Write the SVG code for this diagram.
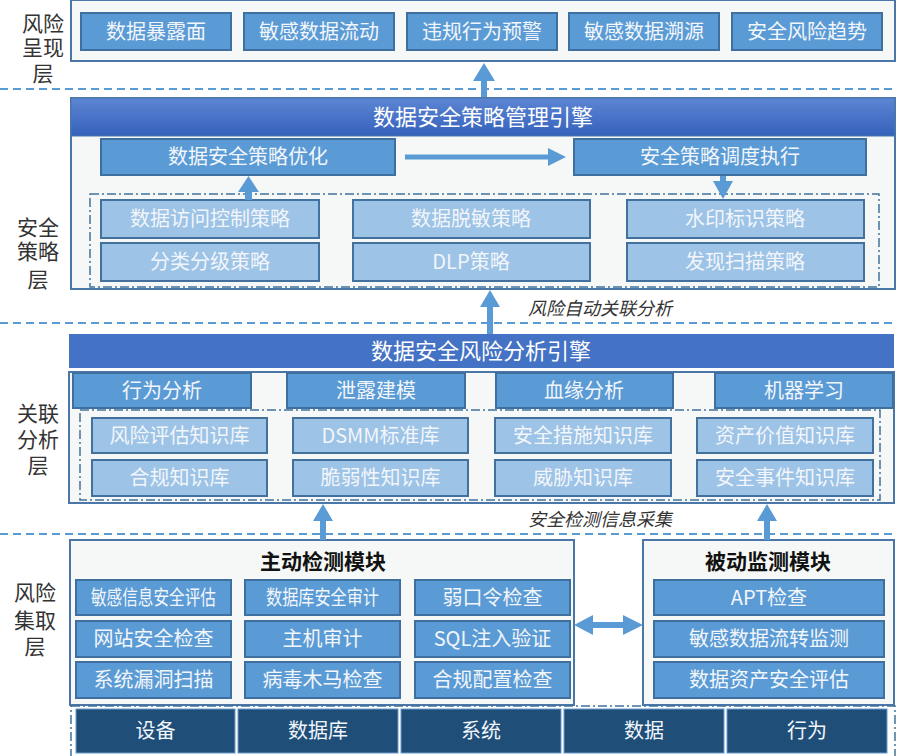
<svg xmlns="http://www.w3.org/2000/svg" width="900" height="756" viewBox="0 0 900 756">
<defs>
<linearGradient id="hdr" x1="0" y1="0" x2="0" y2="1">
<stop offset="0" stop-color="#5d85d3"/>
<stop offset="1" stop-color="#3461bb"/>
</linearGradient>
<style>
text{font-family:"Noto Sans CJK SC","Noto Sans",sans-serif;text-anchor:middle}
.sec{fill:#f5f8f6;stroke:#4a76a8;stroke-width:2}
.mid{fill:#5b9bd5;stroke:#3f6f9f;stroke-width:2}
.lt{fill:#9dc3e6;stroke:#41719c;stroke-width:2}
.dk{fill:#1f4e79;stroke:#6a9bcf;stroke-width:1}
.dd{fill:none;stroke:#41719c;stroke-width:1.5;stroke-dasharray:9 3 2 3}
.sep{stroke:#5b9bd5;stroke-width:2;stroke-dasharray:8 5}
.bt{fill:#f2f6fb;font-size:20px}
.hd{fill:#ffffff;font-size:22px}
.ly{fill:#333;font-size:21px}
.it{fill:#333;font-size:18px;font-style:italic}
.ti{fill:#111;font-size:21px;font-weight:bold}
.ar{fill:#5b9bd5}
</style>
</defs>
<rect width="900" height="756" fill="#ffffff"/>

<g id="separators">
<line class="sep" x1="0" y1="89" x2="895" y2="89"/>
<line class="sep" x1="0" y1="323" x2="895" y2="323"/>
<line class="sep" x1="0" y1="534" x2="895" y2="534"/>
</g>

<g id="layer-labels">
<text class="ly" x="43" y="31">风险<tspan x="43" dy="24">呈现</tspan><tspan x="43" dy="26">层</tspan></text>
<text class="ly" x="38" y="235">安全<tspan x="38" dy="24">策略</tspan><tspan x="38" dy="28">层</tspan></text>
<text class="ly" x="38" y="421">关联<tspan x="38" dy="26">分析</tspan><tspan x="38" dy="26">层</tspan></text>
<text class="ly" x="35" y="600">风险<tspan x="35" dy="28">集取</tspan><tspan x="35" dy="26">层</tspan></text>
</g>

<g id="presentation-layer">
<rect class="sec" x="71" y="0" width="824" height="61"/>
<g id="p1"><rect class="mid" x="81" y="13" width="150" height="37"/><text class="bt" x="156" y="38.5">数据暴露面</text></g>
<g id="p2"><rect class="mid" x="244" y="13" width="150" height="37"/><text class="bt" x="319" y="38.5">敏感数据流动</text></g>
<g id="p3"><rect class="mid" x="407" y="13" width="150" height="37"/><text class="bt" x="482" y="38.5">违规行为预警</text></g>
<g id="p4"><rect class="mid" x="569" y="13" width="150" height="37"/><text class="bt" x="644" y="38.5">敏感数据溯源</text></g>
<g id="p5"><rect class="mid" x="732" y="13" width="150" height="37"/><text class="bt" x="807" y="38.5">安全风险趋势</text></g>
</g>

<g id="policy-layer">
<rect class="sec" x="71" y="98" width="824" height="191"/>
<g id="policy-engine"><rect x="71" y="98" width="824" height="38" fill="url(#hdr)" stroke="#4a76a8" stroke-width="1"/><text class="hd" x="483" y="125">数据安全策略管理引擎</text></g>
<g id="optimize"><rect class="mid" x="101" y="139" width="294" height="36"/><text class="bt" x="248" y="164">数据安全策略优化</text></g>
<g id="schedule"><rect class="mid" x="574" y="139" width="292" height="36"/><text class="bt" x="720" y="164">安全策略调度执行</text></g>
<rect class="dd" x="90" y="194" width="789" height="93"/>
<g id="s1"><rect class="lt" x="101" y="200" width="218" height="38"/><text class="bt" x="210" y="226">数据访问控制策略</text></g>
<g id="s2"><rect class="lt" x="353" y="200" width="237" height="38"/><text class="bt" x="471" y="226">数据脱敏策略</text></g>
<g id="s3"><rect class="lt" x="627" y="200" width="237" height="38"/><text class="bt" x="745" y="226">水印标识策略</text></g>
<g id="s4"><rect class="lt" x="101" y="243" width="218" height="38"/><text class="bt" x="210" y="269">分类分级策略</text></g>
<g id="s5"><rect class="lt" x="353" y="243" width="237" height="38"/><text class="bt" x="471" y="269">DLP策略</text></g>
<g id="s6"><rect class="lt" x="627" y="243" width="237" height="38"/><text class="bt" x="745" y="269">发现扫描策略</text></g>
</g>

<g id="analysis-layer">
<g id="analysis-engine"><rect x="69" y="334" width="825" height="34" fill="#4472c4"/><text class="hd" x="481" y="359">数据安全风险分析引擎</text></g>
<rect class="sec" x="69" y="372" width="825" height="131"/>
<g id="t1"><rect class="mid" x="73" y="373" width="178" height="35"/><text class="bt" x="162" y="397.5">行为分析</text></g>
<g id="t2"><rect class="mid" x="287" y="373" width="178" height="35"/><text class="bt" x="376" y="397.5">泄露建模</text></g>
<g id="t3"><rect class="mid" x="496" y="373" width="177" height="35"/><text class="bt" x="584" y="397.5">血缘分析</text></g>
<g id="t4"><rect class="mid" x="715" y="373" width="178" height="35"/><text class="bt" x="804" y="397.5">机器学习</text></g>
<rect class="dd" x="80" y="410" width="800" height="90"/>
<g id="k1"><rect class="lt" x="92" y="418" width="175" height="35"/><text class="bt" x="179.5" y="442.5">风险评估知识库</text></g>
<g id="k2"><rect class="lt" x="293" y="418" width="175" height="35"/><text class="bt" x="380.5" y="442.5">DSMM标准库</text></g>
<g id="k3"><rect class="lt" x="495" y="418" width="176" height="35"/><text class="bt" x="583" y="442.5">安全措施知识库</text></g>
<g id="k4"><rect class="lt" x="697" y="418" width="176" height="35"/><text class="bt" x="785" y="442.5">资产价值知识库</text></g>
<g id="k5"><rect class="lt" x="92" y="460" width="175" height="36"/><text class="bt" x="179.5" y="485">合规知识库</text></g>
<g id="k6"><rect class="lt" x="293" y="460" width="175" height="36"/><text class="bt" x="380.5" y="485">脆弱性知识库</text></g>
<g id="k7"><rect class="lt" x="495" y="460" width="176" height="36"/><text class="bt" x="583" y="485">威胁知识库</text></g>
<g id="k8"><rect class="lt" x="697" y="460" width="176" height="36"/><text class="bt" x="785" y="485">安全事件知识库</text></g>
</g>

<g id="collection-layer">
<g id="active-module">
<rect class="sec" x="70" y="540" width="504" height="165"/>
<text class="ti" x="323" y="569">主动检测模块</text>
<g id="a1"><rect class="mid" x="76" y="580" width="155" height="35"/><text class="bt" x="153.5" y="604.5" textLength="125" lengthAdjust="spacingAndGlyphs">敏感信息安全评估</text></g>
<g id="a2"><rect class="mid" x="245" y="580" width="155" height="35"/><text class="bt" x="322.5" y="604.5" textLength="113" lengthAdjust="spacingAndGlyphs">数据库安全审计</text></g>
<g id="a3"><rect class="mid" x="415" y="580" width="155" height="35"/><text class="bt" x="492.5" y="604.5">弱口令检查</text></g>
<g id="a4"><rect class="mid" x="76" y="621" width="155" height="36"/><text class="bt" x="153.5" y="646">网站安全检查</text></g>
<g id="a5"><rect class="mid" x="245" y="621" width="155" height="36"/><text class="bt" x="322.5" y="646">主机审计</text></g>
<g id="a6"><rect class="mid" x="415" y="621" width="155" height="36"/><text class="bt" x="492.5" y="646">SQL注入验证</text></g>
<g id="a7"><rect class="mid" x="76" y="662" width="155" height="36"/><text class="bt" x="153.5" y="687">系统漏洞扫描</text></g>
<g id="a8"><rect class="mid" x="245" y="662" width="155" height="36"/><text class="bt" x="322.5" y="687">病毒木马检查</text></g>
<g id="a9"><rect class="mid" x="415" y="662" width="155" height="36"/><text class="bt" x="492.5" y="687">合规配置检查</text></g>
</g>
<g id="passive-module">
<rect class="sec" x="643" y="540" width="251" height="165"/>
<text class="ti" x="768" y="569">被动监测模块</text>
<g id="b1"><rect class="mid" x="654" y="580" width="230" height="35"/><text class="bt" x="769" y="604.5">APT检查</text></g>
<g id="b2"><rect class="mid" x="654" y="621" width="230" height="36"/><text class="bt" x="769" y="646">敏感数据流转监测</text></g>
<g id="b3"><rect class="mid" x="654" y="662" width="230" height="36"/><text class="bt" x="769" y="687">数据资产安全评估</text></g>
</g>
<rect class="dd" x="71" y="706" width="824" height="52"/>
<g id="d1"><rect class="dk" x="76" y="709" width="159" height="44"/><text class="bt" x="155.5" y="738">设备</text></g>
<g id="d2"><rect class="dk" x="238" y="709" width="160" height="44"/><text class="bt" x="318" y="738">数据库</text></g>
<g id="d3"><rect class="dk" x="401" y="709" width="160" height="44"/><text class="bt" x="481" y="738">系统</text></g>
<g id="d4"><rect class="dk" x="564" y="709" width="160" height="44"/><text class="bt" x="644" y="738">数据</text></g>
<g id="d5"><rect class="dk" x="727" y="709" width="160" height="44"/><text class="bt" x="807" y="738">行为</text></g>
</g>

<g id="connectors">
<polygon class="ar" points="481,97 481,81 473,81 484,63 495,81 487,81 487,97"/>
<polygon class="ar" points="405,154.5 548,154.5 548,148 566,157 548,166 548,159.5 405,159.5"/>
<polygon class="ar" points="245,200 245,192 238,192 248.5,176 259,192 252,192 252,200"/>
<polygon class="ar" points="720,176 726,176 726,181 733,181 723,199 713,181 720,181"/>
<polygon class="ar" points="487,334 487,307 480,307 490,290 500,307 493,307 493,334"/>
<polygon class="ar" points="320,540 320,521 313,521 323,504 333,521 326,521 326,540"/>
<polygon class="ar" points="764,540 764,521 757,521 767,504 777,521 770,521 770,540"/>
<polygon class="ar" points="574,625 593,615 593,622 623,622 623,615 643,625 623,635 623,628 593,628 593,635"/>
<text class="it" x="600" y="315">风险自动关联分析</text>
<text class="it" x="600" y="526">安全检测信息采集</text>
</g>
</svg>
